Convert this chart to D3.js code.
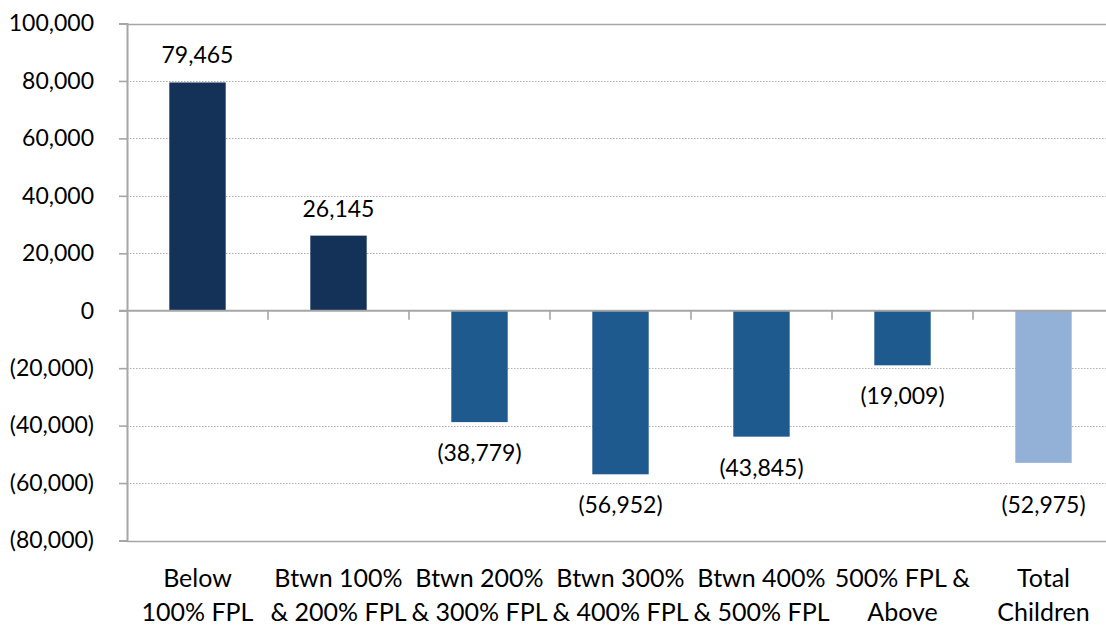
<!DOCTYPE html>
<html>
<head>
<meta charset="utf-8">
<script src="https://cdn.jsdelivr.net/npm/d3@7"></script>
<style>
  html, body { margin: 0; padding: 0; background: #fff; }
  svg { display: block; }
  text { font-family: Lato, "Open Sans", sans-serif; fill: #000; }
</style>
</head>
<body>
<svg id="chart" width="1106" height="625"></svg>
<script>
// Change in number of children by income band
const categories = [
  ["Below", "100% FPL"],
  ["Btwn 100%", "& 200% FPL"],
  ["Btwn 200%", "& 300% FPL"],
  ["Btwn 300%", "& 400% FPL"],
  ["Btwn 400%", "& 500% FPL"],
  ["500% FPL &", "Above"],
  ["Total", "Children"]
];
const values = [79465, 26145, -38779, -56952, -43845, -19009, -52975];
const tickValues = [-80000, -60000, -40000, -20000, 0, 20000, 40000, 60000, 80000, 100000];

const svg = d3.select("#chart");
const plotLeft = 127, plotRight = 1114, plotTop = 23.5, plotBottom = 540.5;
const fontSize = 23;
const catFontSize = 25;

const keys = categories.map((c, i) => i);
const x = d3.scaleBand().domain(keys).range([plotLeft, plotRight]).paddingInner(0).paddingOuter(0);
const y = d3.scaleLinear().domain([-80000, 100000]).range([plotBottom, plotTop]);

const num = d3.format(",");
const fmt = v => v < 0 ? `(${num(-v)})` : num(v);

function barColor(i, v) {
  if (i === categories.length - 1) return "#93b1d6";
  return v >= 0 ? "#143257" : "#1f5a8f";
}

// Gridlines: dotted interior, solid at the top and bottom of the range
svg.append("g")
  .selectAll("line")
  .data(tickValues.filter(t => t !== 0))
  .join("line")
  .attr("x1", plotLeft).attr("x2", plotRight)
  .attr("y1", d => Math.round(y(d)) + 0.5).attr("y2", d => Math.round(y(d)) + 0.5)
  .attr("stroke", d => (d === 100000 || d === -80000) ? "#a6a6a6" : "#b0b0b0")
  .attr("stroke-width", d => (d === 100000 || d === -80000) ? 1.6 : 1)
  .attr("stroke-dasharray", d => (d === 100000 || d === -80000) ? null : "1.5,1.5");

// Bars
const bw = x.bandwidth() * 0.4;
svg.append("g")
  .selectAll("rect")
  .data(values)
  .join("rect")
  .attr("x", (d, i) => x(i) + (x.bandwidth() - bw) / 2)
  .attr("width", bw)
  .attr("y", d => y(Math.max(0, d)))
  .attr("height", d => Math.abs(y(d) - y(0)))
  .attr("fill", (d, i) => barColor(i, d));

// Y axis
const yAxis = d3.axisLeft(y)
  .tickValues(tickValues)
  .tickSize(8)
  .tickPadding(25)
  .tickFormat(fmt);
const gy = svg.append("g").attr("transform", `translate(${plotLeft},0)`).call(yAxis);
gy.select(".domain").attr("stroke", "#a6a6a6").attr("stroke-width", 2);
gy.selectAll(".tick line").attr("stroke", "#a6a6a6").attr("stroke-width", 1.6);
gy.selectAll(".tick text")
  .style("font-size", fontSize + "px")
  .style("font-family", "Lato, sans-serif")
  .attr("fill", "#000");

// Zero line with category separators
const gx = svg.append("g").attr("transform", `translate(0,${y(0)})`);
gx.append("line")
  .attr("x1", plotLeft - 8).attr("x2", plotRight)
  .attr("stroke", "#a6a6a6").attr("stroke-width", 2);
gx.selectAll("line.sep")
  .data(keys.slice(1))
  .join("line")
  .attr("class", "sep")
  .attr("x1", d => x(d)).attr("x2", d => x(d))
  .attr("y1", 0).attr("y2", 9)
  .attr("stroke", "#a6a6a6").attr("stroke-width", 1.6);

// Category labels (two lines each)
const cat = svg.append("g")
  .selectAll("text")
  .data(categories)
  .join("text")
  .attr("text-anchor", "middle")
  .style("font-size", catFontSize + "px");
cat.selectAll("tspan")
  .data((d, i) => d.map(line => ({ line, i })))
  .join("tspan")
  .attr("x", d => x(d.i) + x.bandwidth() / 2)
  .attr("y", (d, j) => 587 + j * 34)
  .text(d => d.line);

// Value labels
svg.append("g")
  .selectAll("text")
  .data(values)
  .join("text")
  .attr("text-anchor", "middle")
  .attr("dominant-baseline", "central")
  .style("font-size", fontSize + "px")
  .attr("x", (d, i) => x(i) + x.bandwidth() / 2)
  .attr("y", (d, i) => {
    if (d >= 0) return y(d) - 28;
    return y(d) + (i === categories.length - 1 ? 41 : 30);
  })
  .text(d => fmt(d));
</script>
</body>
</html>
